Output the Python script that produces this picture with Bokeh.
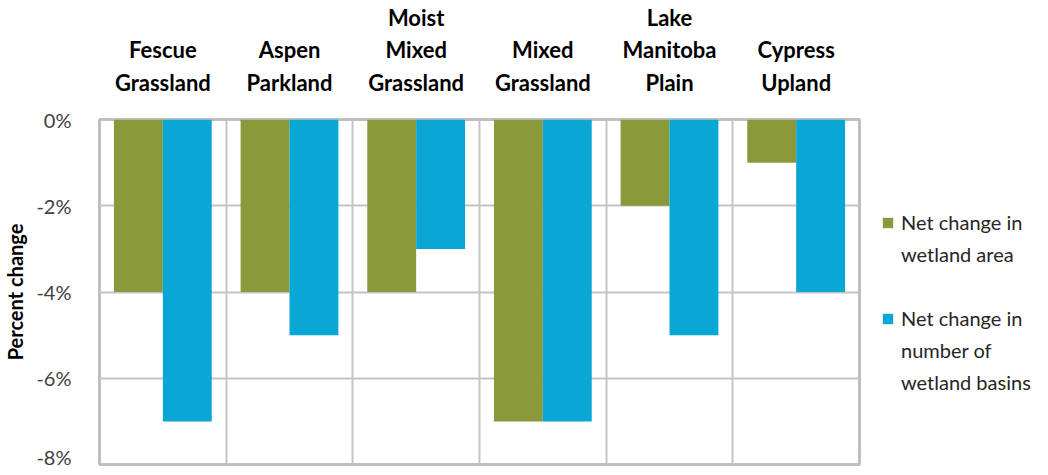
from bokeh.plotting import figure
from bokeh.layouts import row
from bokeh.models import (ColumnDataSource, Range1d, FixedTicker, LinearAxis,
                          PrintfTickFormatter, Legend, LegendItem)
from bokeh.transform import dodge
from bokeh.embed import file_html
from bokeh.resources import INLINE

# ---- data ----
categories = ["Fescue\nGrassland", "Aspen\nParkland", "Moist\nMixed\nGrassland",
              "Mixed\nGrassland", "Lake\nManitoba\nPlain", "Cypress\nUpland"]
area_change = [-4, -4, -4, -7, -2, -1]
basin_change = [-7, -5, -3, -7, -5, -4]
y_ticks = [0, -2, -4, -6, -8]
series_area_lines = ["Net change in", "wetland area"]
series_basin_lines = ["Net change in", "number of", "wetland basins"]
y_title = "Percent change"

GREEN = "#8A9A3B"
BLUE = "#0AA6D6"
GRID = "#C4C4C4"
FONT = "Lato"

n = len(categories)
centers = [i + 0.5 for i in range(n)]
src = ColumnDataSource(dict(x=centers, area=area_change, basin=basin_change))

p = figure(frame_width=760, frame_height=345, x_range=Range1d(0, n), y_range=Range1d(-8, 0),
           output_backend="svg", toolbar_location=None, x_axis_location=None,
           min_border_left=90, min_border_right=4, min_border_top=110,
           min_border_bottom=4)
p.background_fill_color = "white"
p.border_fill_color = "white"
p.outline_line_color = "#BFBFBF"
p.outline_line_width = 3

bw = 0.386
r1 = p.vbar(x=dodge("x", -bw / 2, range=p.x_range), top=0, bottom="area", width=bw,
            source=src, fill_color=GREEN, line_color=None)
r2 = p.vbar(x=dodge("x", bw / 2, range=p.x_range), top=0, bottom="basin", width=bw,
            source=src, fill_color=BLUE, line_color=None)

# top category axis
xa = LinearAxis(ticker=FixedTicker(ticks=centers),
                major_label_overrides={c: lab for c, lab in zip(centers, categories)})
xa.axis_line_color = None
xa.major_tick_line_color = None
xa.minor_tick_line_color = None
xa.major_label_standoff = 18
xa.major_label_text_font = FONT
xa.major_label_text_font_style = "bold"
xa.major_label_text_font_size = "22px"
xa.major_label_text_color = "#000000"
xa.major_label_text_line_height = 1.2
p.add_layout(xa, "above")

# y axis
ya = p.yaxis[0]
ya.ticker = FixedTicker(ticks=y_ticks)
ya.formatter = PrintfTickFormatter(format="%d%%")
ya.axis_line_color = None
ya.major_tick_line_color = None
ya.minor_tick_line_color = None
ya.major_label_standoff = 22
ya.major_label_text_font = FONT
ya.major_label_text_font_size = "20px"
ya.major_label_text_color = "#404040"
ya.axis_label = y_title
ya.axis_label_text_font = FONT
ya.axis_label_text_font_style = "bold"
ya.axis_label_text_font_size = "20px"
ya.axis_label_text_color = "#000000"
ya.axis_label_standoff = 6

p.ygrid.ticker = FixedTicker(ticks=y_ticks[1:-1])
p.ygrid.grid_line_color = GRID
p.ygrid.grid_line_width = 2
p.xgrid.ticker = FixedTicker(ticks=[i for i in range(1, n)])
p.xgrid.grid_line_color = GRID
p.xgrid.grid_line_width = 2

# ---- legend panel (separate small figure to the right) ----
q = figure(width=178, height=p.frame_height + 114, x_range=Range1d(0, 1), y_range=Range1d(0, 1),
           output_backend="svg", toolbar_location=None,
           x_axis_location=None, y_axis_location=None, min_border=0)
q.grid.visible = False
q.outline_line_color = None
q.background_fill_color = "white"
q.border_fill_color = "white"
# legend proxy glyphs: one point each, lying outside the visible range
proxy = dict(x=[-5], top=[-5])
k1 = q.vbar(x="x", top="top", width=0.1, source=ColumnDataSource(proxy),
            fill_color=GREEN, line_color=None)
k2 = q.vbar(x="x", top="top", width=0.1, source=ColumnDataSource(proxy),
            fill_color=BLUE, line_color=None)
kb = q.vbar(x="x", top="top", width=0.1, source=ColumnDataSource(proxy),
            fill_alpha=0, line_alpha=0)

items = [LegendItem(label=series_area_lines[0], renderers=[k1])]
items += [LegendItem(label=t, renderers=[kb]) for t in series_area_lines[1:]]
items += [LegendItem(label=" ", renderers=[kb]),
          LegendItem(label=series_basin_lines[0], renderers=[k2])]
items += [LegendItem(label=t, renderers=[kb]) for t in series_basin_lines[1:]]

legend = Legend(items=items, location=(18, 61), ncols=1, orientation="vertical")
legend.border_line_color = None
legend.background_fill_alpha = 0
legend.label_text_font = FONT
legend.label_text_font_size = "20px"
legend.label_text_color = "#262626"
legend.glyph_width = 13
legend.glyph_height = 13
legend.label_standoff = 7
legend.label_height = 24
legend.spacing = 8
legend.margin = 0
legend.padding = 0
q.add_layout(legend, "center")

layout = row(p, q)
open("out.html", "w").write(file_html(layout, INLINE))
